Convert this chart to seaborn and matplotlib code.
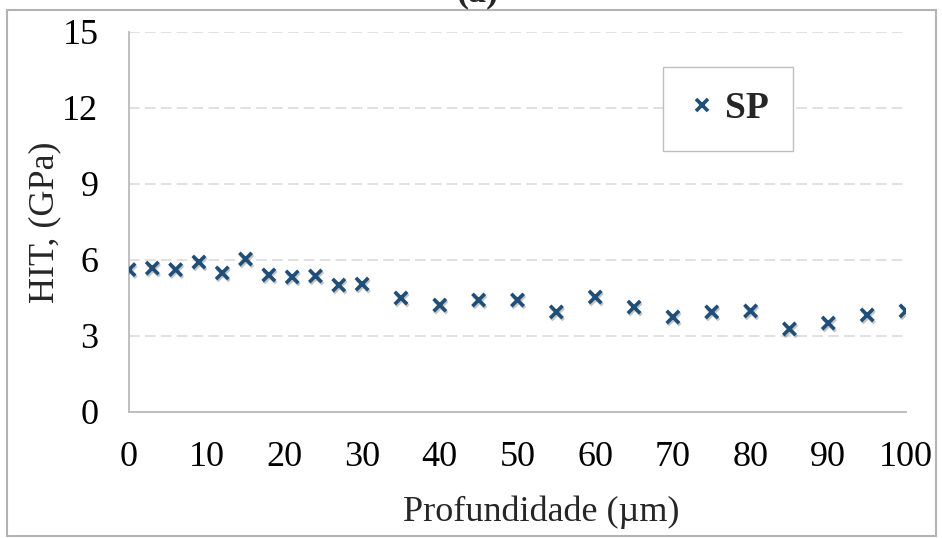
import matplotlib
matplotlib.use("Agg")
import matplotlib.pyplot as plt
import matplotlib.patheffects as pe
from matplotlib.patches import Rectangle
import seaborn as sns
import pandas as pd

# Hardness profile (HIT) versus depth for sample SP
depth_um = [0, 3, 6, 9, 12, 15, 18, 21, 24, 27, 30, 35, 40, 45, 50,
            55, 60, 65, 70, 75, 80, 85, 90, 95, 100]
hit_gpa = [5.62, 5.68, 5.62, 5.92, 5.49, 6.04, 5.41, 5.33, 5.37, 5.01, 5.05,
           4.50, 4.22, 4.42, 4.42, 3.95, 4.54, 4.14, 3.75, 3.95, 3.99,
           3.28, 3.51, 3.83, 3.99]
series_name = "SP"
x_ticks = [0, 10, 20, 30, 40, 50, 60, 70, 80, 90, 100]
y_ticks = [0, 3, 6, 9, 12, 15]

df = pd.DataFrame({"Profundidade": depth_um, "HIT": hit_gpa, "serie": series_name})

sns.set_style("white")
plt.rcParams["font.family"] = ["Liberation Serif", "DejaVu Serif"]

W, H = 942, 538
fig = plt.figure(figsize=(W / 100, H / 100), dpi=100)
ax = fig.add_axes([129 / W, 1 - 412 / H, (906 - 129) / W, (412 - 32) / H])

marker_color = "#1f4e79"
axis_gray = "#bfbfbf"

sns.scatterplot(data=df, x="Profundidade", y="HIT", hue="serie",
                palette=[marker_color], marker="x", s=80, linewidth=2.6,
                ax=ax, legend=True, zorder=3)
for coll in ax.collections:
    coll.set_path_effects([
        pe.SimpleLineShadow(offset=(0.8, -1.4), shadow_color="0.35", alpha=0.35),
        pe.Normal(),
    ])

ax.set_xlim(0, 100)
ax.set_ylim(0, 15)
ax.set_xticks(x_ticks)
ax.set_yticks(y_ticks)

# dashed horizontal gridlines
ax.grid(axis="y", color="#d9d9d9", linewidth=1.1, linestyle=(0, (7.0, 3.4)))
ax.grid(axis="x", visible=False)
ax.set_axisbelow(True)

for side in ["top", "right"]:
    ax.spines[side].set_visible(False)
for side in ["left", "bottom"]:
    ax.spines[side].set_color(axis_gray)
    ax.spines[side].set_linewidth(1.4)

ax.tick_params(axis="x", direction="out", length=7, width=1.2, color=axis_gray,
               labelsize=26, pad=14, labelcolor="black")
ax.tick_params(axis="y", direction="in", length=7, width=1.2, color=axis_gray,
               labelsize=26, pad=22, labelcolor="black")

ax.set_xlabel("Profundidade (µm)", fontsize=26)
ax.set_ylabel("HIT, (GPa)", fontsize=26)
ax.xaxis.set_label_coords((541 - 129) / 777, (412 - 512) / 380)
ax.xaxis.label.set_va("center")
ax.yaxis.set_label_coords((45 - 129) / 777, 0.5)
ax.yaxis.label.set_va("center")

leg = ax.legend(loc="upper left", bbox_to_anchor=((663 - 129) / 777, (412 - 67) / 380),
                borderaxespad=0, frameon=True, fancybox=False, framealpha=1,
                edgecolor=axis_gray, borderpad=0.65, handlelength=0.8,
                handletextpad=0.2, prop={"size": 27, "weight": "bold"})
leg.get_frame().set_linewidth(1.0)

# outer chart border and panel letter
fig.patches.append(Rectangle((7 / W, 2 / H), (936 - 7) / W, (528 - 2) / H,
                             transform=fig.transFigure, fill=False,
                             edgecolor="#b3b3b3", linewidth=1.5, zorder=0))
fig.text(477 / W, 1 - 9 / H, "(a)", ha="center", va="bottom",
         fontsize=26, fontweight="bold")

fig.savefig("out.png", dpi=100)
